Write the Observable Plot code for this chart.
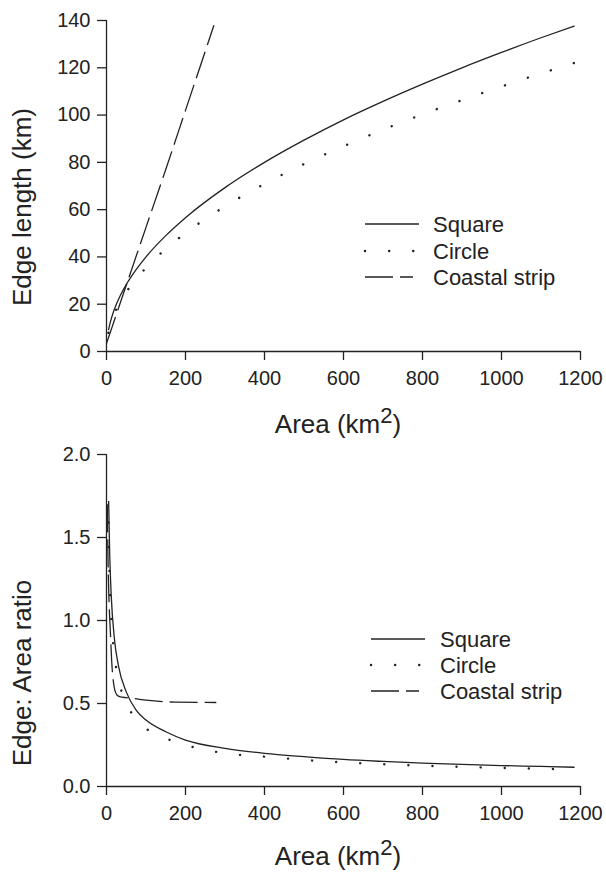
<!DOCTYPE html>
<html>
<head>
<meta charset="utf-8">
<script src="https://cdn.jsdelivr.net/npm/d3@7"></script>
<script src="https://cdn.jsdelivr.net/npm/@observablehq/plot@0.6"></script>
<style>
  html, body { margin: 0; padding: 0; background: #fff; }
  #chart { width: 606px; height: 873px; position: relative; }
  #chart svg { display: block; }
</style>
</head>
<body>
<div id="chart"></div>
<script>
// ---------- Data ----------
const seriesNames = ["Square", "Circle", "Coastal strip"];
const xTicks = [0, 200, 400, 600, 800, 1000, 1200];
const yTicksTop = [0, 20, 40, 60, 80, 100, 120, 140];
const yTicksBottom = [0, 0.5, 1, 1.5, 2];

// Top panel: edge length (km) vs area (km2)
const areaTop = [5, 10, 20, 35, 50, 75, 100, 150, 200, 300, 400, 500, 600, 700, 800, 900, 1000, 1100, 1185];
const edgeSquare = [9, 12.6, 17.9, 23.7, 28.3, 34.6, 40, 49, 56.6, 69.3, 80, 89.4, 98, 105.8, 113.1, 120, 126.5, 132.7, 137.7];
const edgeCircle = [7.9, 11.2, 15.9, 21, 25.1, 30.7, 35.4, 43.4, 50.1, 61.4, 70.9, 79.3, 86.8, 93.8, 100.3, 106.3, 112.1, 117.6, 122.1];
const areaCoastTop = [0, 50, 100, 150, 200, 272];
const edgeCoast = [3.4, 28, 52.5, 77, 102, 138];

// Bottom panel: edge:area ratio vs area (km2)
const areaSquareR = [5.4, 8, 12, 20, 30, 50, 75, 100, 150, 200, 300, 400, 500, 600, 700, 800, 900, 1000, 1100, 1185];
const ratioSquare = [1.72, 1.41, 1.15, 0.89, 0.73, 0.57, 0.46, 0.40, 0.33, 0.28, 0.23, 0.20, 0.18, 0.163, 0.151, 0.141, 0.133, 0.126, 0.121, 0.116];
const areaCircleR = [5, 8, 12, 20, 30, 50, 75, 100, 150, 200, 300, 400, 500, 600, 700, 800, 900, 1000, 1100, 1185];
const ratioCircle = [1.59, 1.25, 1.02, 0.79, 0.65, 0.50, 0.41, 0.35, 0.29, 0.25, 0.20, 0.18, 0.16, 0.145, 0.134, 0.125, 0.118, 0.112, 0.107, 0.103];
const areaCoastR = [2, 4, 6, 8, 10, 13, 17, 21, 27, 35, 50, 69, 100, 175, 278];
const ratioCoast = [1.7, 1.35, 1.15, 1.02, 0.92, 0.76, 0.64, 0.58, 0.55, 0.54, 0.535, 0.53, 0.52, 0.508, 0.506];

// ---------- Styles ----------
const FONT = "'Liberation Sans', Arial, Helvetica, sans-serif";
const INK = "#222";
const LW = 1.3;
const styles = {
  "Square": {dash: null, width: LW, cap: "butt"},
  "Circle": {dash: "0.1,24", width: 2.4, cap: "round"},
  "Coastal strip": {dash: "28,7", width: LW, cap: "butt"}
};

const zip = (xs, ys) => xs.map((x, i) => ({x, y: ys[i]}));

function panel({height, marginTop, marginBottom, yDomain, yTicks, yFormat, series}) {
  const marks = [];
  marks.push(Plot.ruleX([0], {y1: yDomain[0], y2: yDomain[1], stroke: INK, strokeWidth: LW}));
  marks.push(Plot.ruleY([0], {x1: 0, x2: 1200, stroke: INK, strokeWidth: LW}));
  marks.push(Plot.axisX(xTicks, {tickSize: 9, tickPadding: 10, fontSize: 20, fontFamily: FONT, fill: INK, stroke: INK, strokeWidth: LW, label: null, tickFormat: d => String(d)}));
  marks.push(Plot.axisY(yTicks, {tickSize: 9, tickPadding: 7, fontSize: 20, fontFamily: FONT, fill: INK, stroke: INK, strokeWidth: LW, label: null, tickFormat: yFormat}));
  for (const s of series) {
    const st = styles[s.name];
    marks.push(Plot.line(s.data, {
      x: "x", y: "y", curve: "monotone-x",
      stroke: INK, strokeWidth: st.width,
      strokeDasharray: st.dash, strokeLinecap: st.cap
    }));
  }
  return Plot.plot({
    width: 606, height, marginLeft: 106, marginRight: 26, marginTop, marginBottom,
    x: {domain: [0, 1200]},
    y: {domain: yDomain},
    style: {fontFamily: FONT, color: INK, background: "white", overflow: "visible"},
    marks
  });
}

function addXTitle(svg, baselineY) {
  const t = d3.select(svg).append("text")
    .attr("x", 338).attr("y", baselineY)
    .attr("text-anchor", "middle")
    .attr("font-family", FONT).attr("font-size", 26).attr("fill", INK);
  t.append("tspan").text("Area (km");
  t.append("tspan").attr("dy", -10).attr("font-size", 22).text("2");
  t.append("tspan").attr("dy", 10).text(")");
}

function addYTitle(svg, text, cx, cy) {
  d3.select(svg).append("text")
    .attr("transform", `translate(${cx},${cy}) rotate(-90)`)
    .attr("text-anchor", "middle")
    .attr("font-family", FONT).attr("font-size", 26).attr("fill", INK)
    .text(text);
}

function addLegend(svg, x0, x1, tx, ys) {
  const g = d3.select(svg).append("g").attr("text-anchor", "start");
  seriesNames.forEach((name, i) => {
    const st = styles[name];
    const len = name === "Coastal strip" ? (x1 - x0 - 6) : (name === "Circle" ? (x1 - x0 - 4) : (x1 - x0));
    g.append("line")
      .attr("x1", x0).attr("x2", x0 + len)
      .attr("y1", ys[i]).attr("y2", ys[i])
      .attr("stroke", INK).attr("stroke-width", st.width)
      .attr("stroke-linecap", st.cap)
      .attr("stroke-dasharray", st.dash);
    g.append("text")
      .attr("x", tx).attr("y", ys[i])
      .attr("dy", "0.35em")
      .attr("text-anchor", "start")
      .attr("font-family", FONT).attr("font-size", 22).attr("fill", INK)
      .text(name);
  });
}

const topPanel = panel({
  height: 440, marginTop: 20, marginBottom: 89,
  yDomain: [0, 140], yTicks: yTicksTop, yFormat: d => String(d),
  series: [
    {name: "Square", data: zip(areaTop, edgeSquare)},
    {name: "Circle", data: zip(areaTop, edgeCircle)},
    {name: "Coastal strip", data: zip(areaCoastTop, edgeCoast)}
  ]
});
addXTitle(topPanel, 433);
addYTitle(topPanel, "Edge length (km)", 31, 207);
addLegend(topPanel, 365, 419, 433, [224, 251, 277]);

const bottomPanel = panel({
  height: 433, marginTop: 14, marginBottom: 87,
  yDomain: [0, 2], yTicks: yTicksBottom, yFormat: d3.format(".1f"),
  series: [
    {name: "Square", data: zip(areaSquareR, ratioSquare)},
    {name: "Circle", data: zip(areaCircleR, ratioCircle)},
    {name: "Coastal strip", data: zip(areaCoastR, ratioCoast)}
  ]
});
addXTitle(bottomPanel, 425);
addYTitle(bottomPanel, "Edge: Area ratio", 31, 233);
addLegend(bottomPanel, 371, 425, 440, [199, 225, 251]);

document.getElementById("chart").append(topPanel, bottomPanel);
</script>
</body>
</html>
